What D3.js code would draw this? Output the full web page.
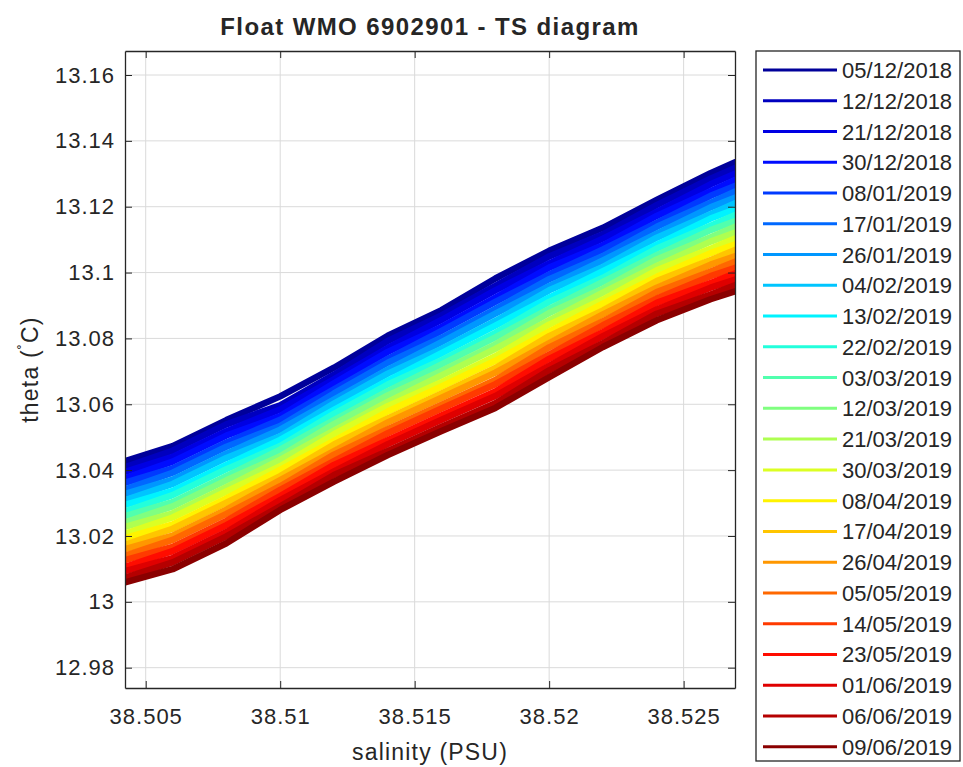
<!DOCTYPE html>
<html>
<head>
<meta charset="utf-8">
<script src="https://cdn.jsdelivr.net/npm/d3@7"></script>
<style>
	body { margin: 0; background: #fff; }
	text { font-family: 'Liberation Sans', Arial, sans-serif; fill: #262626; }
</style>
</head>
<body>
<script>
var salinityStations = [38.504, 38.506, 38.508, 38.510, 38.512, 38.514, 38.516, 38.518, 38.520, 38.522, 38.524, 38.526, 38.5275]

// profile dates (legend order)
var profileDates = ['05/12/2018', '12/12/2018', '21/12/2018', '30/12/2018', '08/01/2019', '17/01/2019',
	'26/01/2019', '04/02/2019', '13/02/2019', '22/02/2019', '03/03/2019', '12/03/2019', '21/03/2019',
	'30/03/2019', '08/04/2019', '17/04/2019', '26/04/2019', '05/05/2019', '14/05/2019', '23/05/2019',
	'01/06/2019', '06/06/2019', '09/06/2019']

// theta values per profile at the salinity stations
var th_20181205 = [13.0421, 13.0473, 13.0552, 13.0624, 13.0711, 13.0808, 13.0886, 13.0982, 13.1066, 13.1136, 13.1221, 13.1302, 13.1356]
var th_20181212 = [13.0402, 13.0459, 13.0539, 13.0597, 13.0690, 13.0792, 13.0870, 13.0960, 13.1049, 13.1116, 13.1205, 13.1285, 13.1338]
var th_20181221 = [13.0389, 13.0440, 13.0518, 13.0584, 13.0676, 13.0771, 13.0856, 13.0946, 13.1028, 13.1103, 13.1184, 13.1268, 13.1321]
var th_20181230 = [13.0369, 13.0426, 13.0505, 13.0564, 13.0664, 13.0759, 13.0835, 13.0924, 13.1015, 13.1083, 13.1172, 13.1247, 13.1303]
var th_20190108 = [13.0356, 13.0405, 13.0484, 13.0553, 13.0645, 13.0738, 13.0823, 13.0911, 13.0994, 13.1070, 13.1151, 13.1233, 13.1282]
var th_20190117 = [13.0335, 13.0392, 13.0471, 13.0534, 13.0633, 13.0726, 13.0802, 13.0889, 13.0980, 13.1050, 13.1139, 13.1212, 13.1268]
var th_20190126 = [13.0322, 13.0371, 13.0450, 13.0523, 13.0614, 13.0705, 13.0789, 13.0875, 13.0959, 13.1037, 13.1118, 13.1198, 13.1246]
var th_20190204 = [13.0302, 13.0358, 13.0437, 13.0503, 13.0602, 13.0693, 13.0768, 13.0853, 13.0946, 13.1017, 13.1106, 13.1177, 13.1232]
var th_20190213 = [13.0289, 13.0337, 13.0416, 13.0492, 13.0583, 13.0672, 13.0755, 13.0839, 13.0924, 13.1004, 13.1085, 13.1164, 13.1210]
var th_20190222 = [13.0268, 13.0324, 13.0403, 13.0473, 13.0571, 13.0660, 13.0734, 13.0817, 13.0911, 13.0984, 13.1073, 13.1142, 13.1196]
var th_20190303 = [13.0255, 13.0303, 13.0382, 13.0462, 13.0552, 13.0640, 13.0721, 13.0803, 13.0890, 13.0972, 13.1053, 13.1129, 13.1174]
var th_20190312 = [13.0235, 13.0290, 13.0369, 13.0442, 13.0540, 13.0627, 13.0701, 13.0782, 13.0877, 13.0951, 13.1040, 13.1107, 13.1160]
var th_20190321 = [13.0222, 13.0269, 13.0348, 13.0431, 13.0520, 13.0607, 13.0688, 13.0768, 13.0855, 13.0939, 13.1020, 13.1094, 13.1138]
var th_20190330 = [13.0201, 13.0256, 13.0335, 13.0412, 13.0509, 13.0594, 13.0667, 13.0746, 13.0842, 13.0918, 13.1007, 13.1072, 13.1124]
var th_20190408 = [13.0188, 13.0235, 13.0314, 13.0401, 13.0489, 13.0578, 13.0654, 13.0732, 13.0821, 13.0906, 13.0987, 13.1059, 13.1102]
var th_20190417 = [13.0167, 13.0222, 13.0301, 13.0382, 13.0478, 13.0557, 13.0633, 13.0710, 13.0807, 13.0885, 13.0974, 13.1038, 13.1088]
var th_20190426 = [13.0155, 13.0201, 13.0280, 13.0370, 13.0458, 13.0545, 13.0620, 13.0696, 13.0786, 13.0873, 13.0954, 13.1024, 13.1066]
var th_20190505 = [13.0134, 13.0188, 13.0267, 13.0351, 13.0447, 13.0524, 13.0599, 13.0674, 13.0773, 13.0852, 13.0941, 13.1003, 13.1052]
var th_20190514 = [13.0121, 13.0167, 13.0246, 13.0340, 13.0427, 13.0512, 13.0587, 13.0661, 13.0751, 13.0840, 13.0921, 13.0989, 13.1030]
var th_20190523 = [13.0100, 13.0154, 13.0233, 13.0321, 13.0416, 13.0491, 13.0566, 13.0639, 13.0738, 13.0819, 13.0908, 13.0968, 13.1016]
var th_20190601 = [13.0088, 13.0133, 13.0212, 13.0309, 13.0396, 13.0479, 13.0553, 13.0625, 13.0717, 13.0807, 13.0888, 13.0954, 13.0994]
var th_20190606 = [13.0067, 13.0120, 13.0199, 13.0290, 13.0385, 13.0458, 13.0532, 13.0603, 13.0703, 13.0786, 13.0875, 13.0933, 13.0980]
var th_20190609 = [13.0054, 13.0099, 13.0178, 13.0279, 13.0365, 13.0446, 13.0519, 13.0589, 13.0682, 13.0774, 13.0855, 13.0919, 13.0958]

var thetaProfiles = [th_20181205, th_20181212, th_20181221, th_20181230, th_20190108, th_20190117,
	th_20190126, th_20190204, th_20190213, th_20190222, th_20190303, th_20190312, th_20190321,
	th_20190330, th_20190408, th_20190417, th_20190426, th_20190505, th_20190514, th_20190523,
	th_20190601, th_20190606, th_20190609]

// tick values and labels
var xTicks = [38.505, 38.51, 38.515, 38.52, 38.525]
var xTickLabels = ['38.505', '38.51', '38.515', '38.52', '38.525']
var yTicks = [12.98, 13, 13.02, 13.04, 13.06, 13.08, 13.1, 13.12, 13.14, 13.16]
var yTickLabels = ['12.98', '13', '13.02', '13.04', '13.06', '13.08', '13.1', '13.12', '13.14', '13.16']

var margin = {top: 51, right: 228, bottom: 79, left: 125}
var width = 963 - margin.left - margin.right
var height = 767 - margin.top - margin.bottom
var axisColor = '#262626'

// matlab jet colormap
var jet = d3.scaleLinear()
	.domain([0, 0.125, 0.375, 0.625, 0.875, 1])
	.range(['#00009a', '#0000ff', '#00ffff', '#ffff00', '#ff0000', '#8a0000'])

function profileColor(i) {
	return jet(i / (profileDates.length - 1))
}

var x = d3.scaleLinear()
	.domain([38.50423, 38.52691])
	.range([0, width])

var y = d3.scaleLinear()
	.domain([12.97383, 13.16729])
	.range([height, 0])

var svg = d3.select('body')
	.append('svg')
		.attr('width', 963)
		.attr('height', 767)

var g = svg.append('g')
	.attr('transform', 'translate(' + margin.left + ',' + margin.top + ')')

g.append('clipPath')
		.attr('id', 'plotclip')
	.append('rect')
		.attr('width', width)
		.attr('height', height)

// grid lines
g.append('g').selectAll('line')
		.data(xTicks)
	.enter().append('line')
		.attr('x1', function(d) { return x(d) })
		.attr('x2', function(d) { return x(d) })
		.attr('y1', 0)
		.attr('y2', height)
		.attr('stroke', '#dadada')

g.append('g').selectAll('line')
		.data(yTicks)
	.enter().append('line')
		.attr('y1', function(d) { return y(d) })
		.attr('y2', function(d) { return y(d) })
		.attr('x1', 0)
		.attr('x2', width)
		.attr('stroke', '#dadada')

// TS profiles
var line = d3.line()
	.x(function(d, i) { return x(salinityStations[i]) })
	.y(function(d) { return y(d) })

g.append('g')
		.attr('clip-path', 'url(#plotclip)')
	.selectAll('path')
		.data(thetaProfiles)
	.enter().append('path')
		.attr('d', line)
		.attr('fill', 'none')
		.attr('stroke', function(d, i) { return profileColor(i) })
		.attr('stroke-width', 6.5)
		.attr('stroke-linejoin', 'round')

// axes, ticks pointing inwards on all four sides
var xAxis = g.append('g')
	.attr('transform', 'translate(0,' + height + ')')
	.call(d3.axisBottom(x).tickValues(xTicks)
		.tickFormat(function(d, i) { return xTickLabels[i] })
		.tickSizeInner(-7).tickSizeOuter(0).tickPadding(20))

var yAxis = g.append('g')
	.call(d3.axisLeft(y).tickValues(yTicks)
		.tickFormat(function(d, i) { return yTickLabels[i] })
		.tickSizeInner(-7).tickSizeOuter(0).tickPadding(10))

g.append('g')
	.call(d3.axisTop(x).tickValues(xTicks).tickFormat('').tickSizeInner(-7).tickSizeOuter(0))

g.append('g')
	.attr('transform', 'translate(' + width + ',0)')
	.call(d3.axisRight(y).tickValues(yTicks).tickFormat('').tickSizeInner(-7).tickSizeOuter(0))

g.selectAll('.domain').attr('stroke', axisColor).attr('stroke-width', 1.3)
g.selectAll('.tick line').attr('stroke', axisColor)
g.selectAll('.tick text')
	.style('font-size', '22px')
	.style('letter-spacing', '1px')
	.attr('fill', axisColor)

// title and axis labels
svg.append('text')
	.attr('x', margin.left + width / 2)
	.attr('y', 35)
	.attr('text-anchor', 'middle')
	.style('font-size', '24px')
	.style('font-weight', 'bold')
	.style('letter-spacing', '1.4px')
	.attr('fill', '#000')
	.text('Float WMO 6902901 - TS diagram')

svg.append('text')
	.attr('x', margin.left + width / 2)
	.attr('y', 760)
	.attr('text-anchor', 'middle')
	.style('font-size', '23px')
	.style('letter-spacing', '1.2px')
	.text('salinity (PSU)')

var yLabel = svg.append('text')
	.attr('transform', 'translate(38,' + (margin.top + height / 2) + ') rotate(-90)')
	.attr('text-anchor', 'middle')
	.style('font-size', '23px')
	.style('letter-spacing', '1.2px')

yLabel.append('tspan').text('theta (')
yLabel.append('tspan').attr('dy', -9).style('font-size', '15px').text('\u02DA')
yLabel.append('tspan').attr('dy', 9).text('C)')

// legend
var legend = svg.append('g')
	.attr('transform', 'translate(756,51)')

legend.append('rect')
	.attr('width', 204)
	.attr('height', 710)
	.attr('fill', '#fff')
	.attr('stroke', axisColor)
	.attr('stroke-width', 1.3)

var legendItem = legend.selectAll('g.item')
		.data(profileDates)
	.enter().append('g')
		.attr('class', 'item')
		.attr('transform', function(d, i) { return 'translate(0,' + (19 + i * 30.76) + ')' })

legendItem.append('line')
	.attr('x1', 7)
	.attr('x2', 81)
	.attr('stroke', function(d, i) { return profileColor(i) })
	.attr('stroke-width', 3)

legendItem.append('text')
	.attr('x', 86)
	.attr('y', 8)
	.style('font-size', '22px')
	.text(function(d) { return d })
</script>
</body>
</html>
